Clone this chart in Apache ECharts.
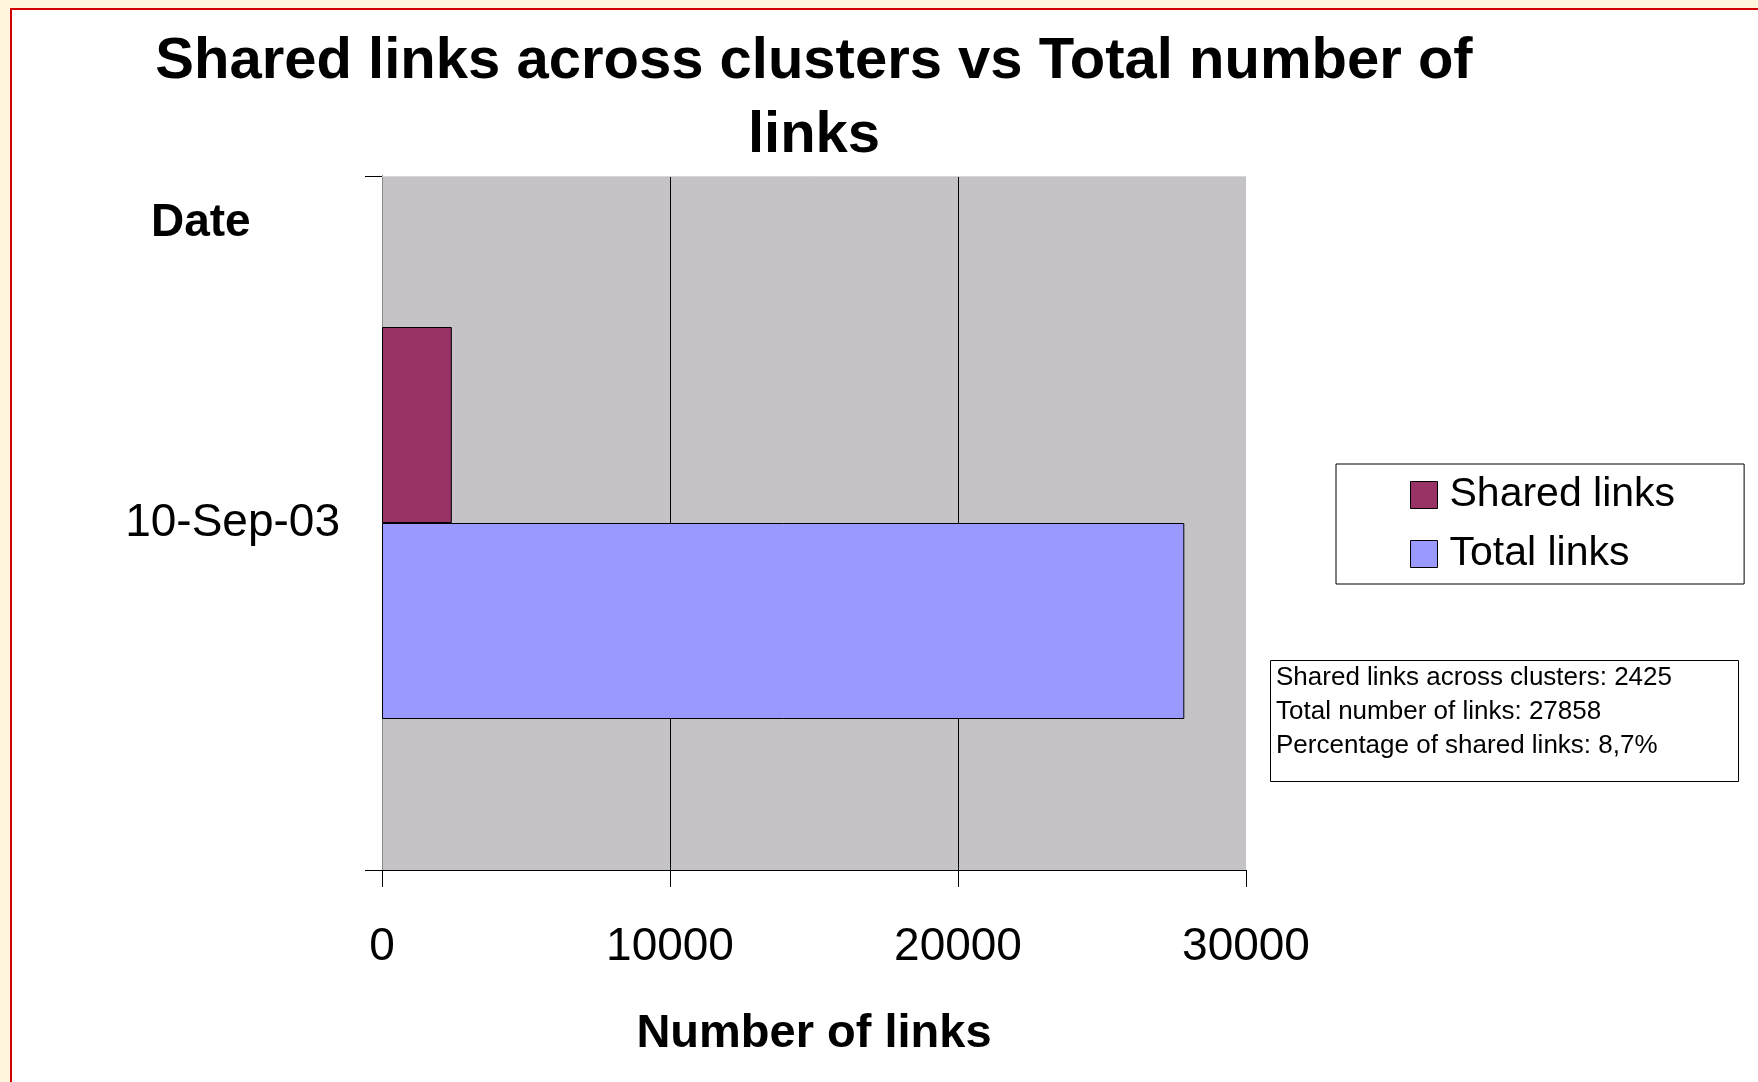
<!DOCTYPE html>
<html>
<head>
<meta charset="utf-8">
<script src="https://cdn.jsdelivr.net/npm/echarts@6/dist/echarts.min.js"></script>
<style>
    html, body { margin: 0; padding: 0; background: #fff5dc; }
    /* marco rojo de la diapositiva */
    #marco {
        position: absolute; left: 10px; top: 8px;
        width: 1760px; height: 1090px;
        border: 2px solid #d40000; background: #ffffff;
    }
    #grafica { position: absolute; left: 0; top: 0; width: 1758px; height: 1082px; }
</style>
</head>
<body>
<div id="marco"></div>
<div id="grafica"></div>
<script>
// Datos de la grafica
const fechas = ['10-Sep-03'];
const enlacesCompartidos = [2425];
const enlacesTotales = [27858];
const marcasEje = [0, 10000, 20000, 30000];

const fuente = "'Liberation Sans', Arial, sans-serif";

// Texto del cuadro de informacion, sacado de los mismos datos
const porcentaje = (enlacesCompartidos[0] / enlacesTotales[0] * 100).toFixed(1).replace('.', ',');
const textoInfo = [
    'Shared links across clusters: ' + enlacesCompartidos[0],
    'Total number of links: ' + enlacesTotales[0],
    'Percentage of shared links: ' + porcentaje + '%'
].join('\n');

const miGrafica = echarts.init(document.getElementById('grafica'), null, { renderer: 'canvas' });

const opcion = {
    backgroundColor: 'transparent',
    animation: false,
    textStyle: { fontFamily: fuente, color: '#000' },
    title: [
        {
            // centrado sobre el area de trazado, no sobre toda la pagina
            text: 'Shared links across clusters vs Total number of\nlinks',
            left: 814,
            top: 25,
            textAlign: 'center',
            padding: 0,
            textStyle: { fontFamily: fuente, fontSize: 58, fontWeight: 'bold', lineHeight: 74, color: '#000' }
        },
        {
            text: 'Date',
            left: 151,
            top: 200,
            padding: 0,
            textStyle: { fontFamily: fuente, fontSize: 46, fontWeight: 'bold', lineHeight: 46, color: '#000' }
        },
        {
            text: textoInfo,
            left: 1270,
            top: 660,
            padding: [1, 67, 19, 6],
            borderColor: '#000',
            borderWidth: 1,
            backgroundColor: '#fff',
            textStyle: { fontFamily: fuente, fontSize: 26, fontWeight: 'normal', lineHeight: 34, color: '#000' }
        }
    ],
    legend: {
        data: ['Shared links', 'Total links'],
        orient: 'vertical',
        left: 1336,
        top: 464,
        padding: [6, 69, 5, 74],
        itemWidth: 27,
        itemHeight: 27,
        itemGap: 9,
        selectedMode: false,
        backgroundColor: '#fff',
        borderColor: '#000',
        borderWidth: 1,
        icon: 'rect',
        itemStyle: { borderColor: '#000', borderWidth: 1 },
        textStyle: { fontFamily: fuente, fontSize: 41, lineHeight: 48, color: '#000', padding: [2, 0, 0, 7] }
    },
    grid: {
        left: 382,
        right: 512,
        top: 176,
        bottom: 212,
        show: true,
        backgroundColor: '#c5c3c7',
        borderWidth: 0
    },
    xAxis: [
        {
            type: 'value',
            min: marcasEje[0],
            max: marcasEje[marcasEje.length - 1],
            interval: marcasEje[1] - marcasEje[0],
            name: 'Number of links',
            nameLocation: 'middle',
            nameGap: 141,
            nameTextStyle: { fontFamily: fuente, fontSize: 47, fontWeight: 'bold', color: '#000' },
            axisLine: { show: true, lineStyle: { color: '#000', width: 1 } },
            axisTick: { show: true, length: 17, lineStyle: { color: '#000' } },
            axisLabel: {
                fontFamily: fuente, fontSize: 46, color: '#000', margin: 54,
                formatter: function (v) { return String(v); }
            },
            splitLine: { show: true, showMaxLine: false, lineStyle: { color: '#000', width: 1 } }
        },
        {
            // borde superior del area de trazado
            type: 'value',
            position: 'top',
            min: marcasEje[0],
            max: marcasEje[marcasEje.length - 1],
            axisLine: { show: true, lineStyle: { color: '#d6d6d6', width: 1 } },
            axisTick: { show: false },
            axisLabel: { show: false },
            splitLine: { show: false }
        }
    ],
    yAxis: [
        {
            type: 'category',
            data: fechas,
            axisLine: { show: true, lineStyle: { color: '#000', width: 1 } },
            axisTick: { show: true, length: 17, lineStyle: { color: '#000' } },
            axisLabel: { fontFamily: fuente, fontSize: 46, color: '#000', margin: 42 },
            splitLine: { show: false }
        },
        {
            // borde derecho del area de trazado
            type: 'category',
            data: fechas,
            position: 'right',
            axisLine: { show: true, lineStyle: { color: '#8a8a8a', width: 1 } },
            axisTick: { show: false },
            axisLabel: { show: false },
            splitLine: { show: false }
        }
    ],
    series: [
        {
            name: 'Shared links',
            type: 'bar',
            data: enlacesCompartidos,
            barWidth: 196,
            barGap: '0%',
            itemStyle: { color: '#993366', borderColor: '#000', borderWidth: 1 }
        },
        {
            name: 'Total links',
            type: 'bar',
            data: enlacesTotales,
            barWidth: 196,
            barGap: '0%',
            itemStyle: { color: '#9999ff', borderColor: '#000', borderWidth: 1 }
        }
    ]
};

miGrafica.setOption(opcion);
</script>
</body>
</html>
